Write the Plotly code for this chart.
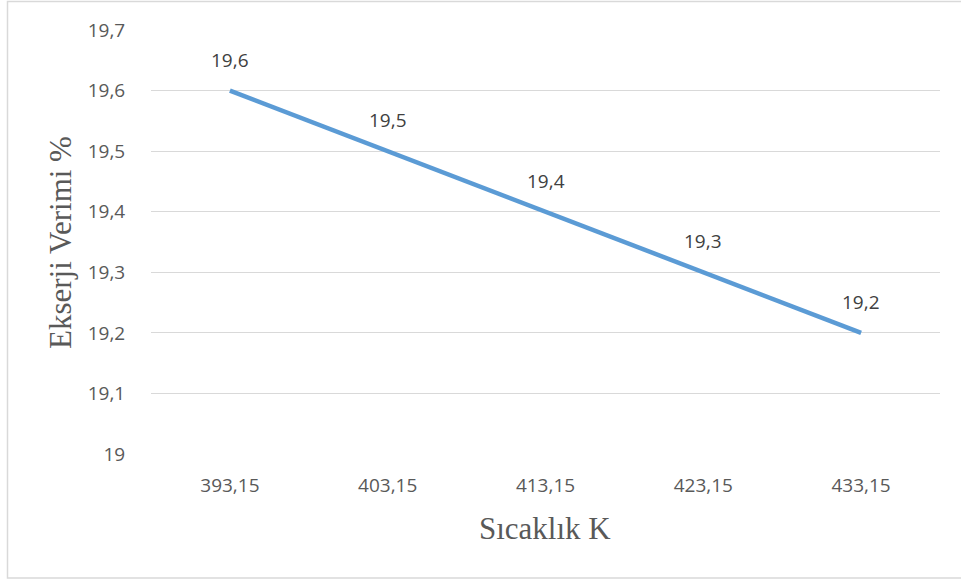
import plotly.graph_objects as go

categories = ["393,15", "403,15", "413,15", "423,15", "433,15"]
values = [19.6, 19.5, 19.4, 19.3, 19.2]
value_labels = ["19,6", "19,5", "19,4", "19,3", "19,2"]
y_ticks = [19.0, 19.1, 19.2, 19.3, 19.4, 19.5, 19.6, 19.7]
y_tick_labels = ["19", "19,1", "19,2", "19,3", "19,4", "19,5", "19,6", "19,7"]
x_title = "Sıcaklık K"
y_title = "Ekserji Verimi %"

W, H = 961, 581
L, R, T, B = 151, 21, 30, 127
pw, ph = W - L - R, H - T - B

fig = go.Figure()
fig.add_trace(go.Scatter(
    x=categories, y=values, mode="lines",
    line=dict(color="#5B9BD5", width=4.5),
    hoverinfo="skip", showlegend=False,
))

for c, v, t in zip(categories, values, value_labels):
    fig.add_annotation(x=c, y=v, text=t, showarrow=False, yshift=31,
                       xanchor="center", yanchor="middle",
                       font=dict(family="Open Sans", size=19, color="#404040"))

fig.update_layout(
    width=W, height=H,
    margin=dict(l=L, r=R, t=T, b=B),
    paper_bgcolor="white", plot_bgcolor="white",
    separators=",.",
    showlegend=False,
)
fig.update_xaxes(
    type="category", showgrid=False, zeroline=False, showline=False,
    ticks="outside", ticklen=14, tickcolor="rgba(0,0,0,0)",
    tickfont=dict(family="Open Sans", size=19, color="#595959"),
    range=[-0.5, 4.5],
)
fig.update_yaxes(
    range=[19.0, 19.7], tickvals=y_ticks, ticktext=y_tick_labels,
    showgrid=True, gridcolor="#D9D9D9", gridwidth=1, zeroline=False,
    showline=False, ticks="outside", ticklen=21, tickcolor="rgba(0,0,0,0)",
    tickfont=dict(family="Open Sans", size=19, color="#595959"),
)

# axis titles
fig.add_annotation(xref="paper", yref="paper",
                   x=(545 - L) / pw, y=(H - B - 528) / ph,
                   xanchor="center", yanchor="middle",
                   text=x_title, showarrow=False,
                   font=dict(family="Liberation Serif", size=31, color="#595959"))
fig.add_annotation(xref="paper", yref="paper",
                   x=(60 - L) / pw, y=(H - B - 243) / ph,
                   xanchor="center", yanchor="middle",
                   text=y_title, showarrow=False, textangle=-90,
                   font=dict(family="Liberation Serif", size=31, color="#595959"))

# chart border
fig.add_shape(type="rect", xref="paper", yref="paper",
              x0=(7.5 - L) / pw, x1=(970 - L) / pw,
              y0=(H - B - 578) / ph, y1=(H - B - 1.5) / ph,
              line=dict(color="#D9D9D9", width=1.5), layer="below")

fig.write_html("out.html", config={"displayModeBar": False},
               post_script="document.body.style.margin='0';")
